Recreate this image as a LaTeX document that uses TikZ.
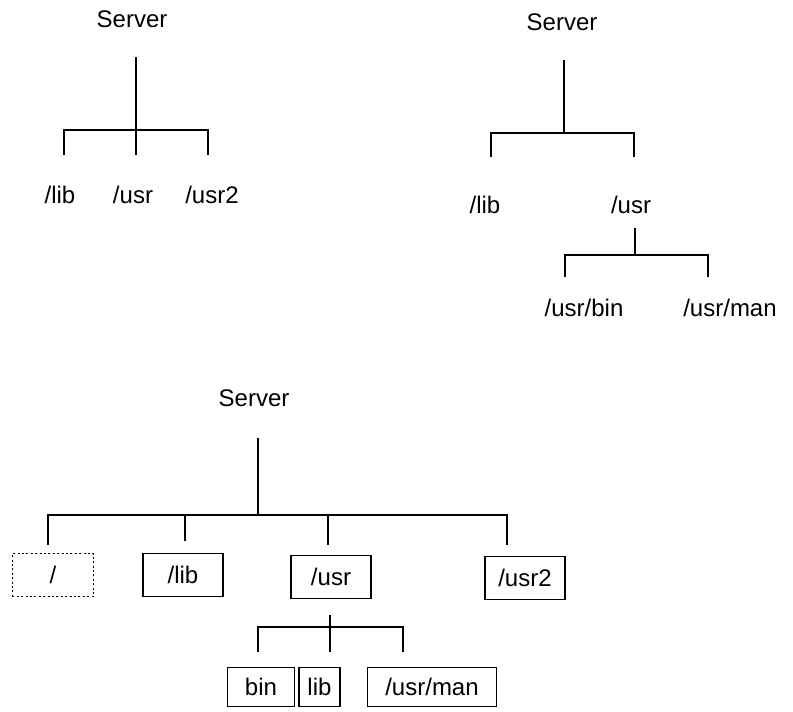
\documentclass[tikz,border=0pt]{standalone}
\usepackage{fontspec}
\setmainfont{Liberation Sans}
\begin{document}
\begin{tikzpicture}[x=0.75pt,y=-0.75pt,
  lbl/.style={inner sep=0pt, font=\fontsize{18}{21}\selectfont},
  dirbox/.style={draw, line width=1.1pt, inner sep=0pt, minimum height=32pt, font=\fontsize{18}{21}\selectfont},
  ghostbox/.style={dirbox, dash pattern=on 1.5pt off 1.8pt},
  ln/.style={line width=1.3pt}]
\useasboundingbox (0,0) rectangle (793,711);

% ---------- top-left tree ----------
\node[lbl] (s1) at (132,19) {Server};
\coordinate (s1t) at (136,57);
\coordinate (s1j) at (136,130);
\coordinate (s1l) at (64,130);
\coordinate (s1r) at (208,130);
\coordinate (s1la) at (64,155);
\coordinate (s1ma) at (136,155);
\coordinate (s1ra) at (208,155);
\node[lbl] (t1lib) at (60,195) {/lib};
\node[lbl] (t1usr) at (133,195) {/usr};
\node[lbl] (t1usr2) at (212,195) {/usr2};
\draw[ln] (s1t) -- (s1ma);
\draw[ln] (s1la) -- (s1l) -- (s1r) -- (s1ra);

% ---------- top-right tree ----------
\node[lbl] (s2) at (562,22) {Server};
\coordinate (s2t) at (564,60);
\coordinate (s2j) at (564,133);
\coordinate (s2l) at (491,133);
\coordinate (s2r) at (634,133);
\coordinate (s2la) at (491,157);
\coordinate (s2ra) at (634,157);
\node[lbl] (t2lib) at (485,205) {/lib};
\node[lbl] (t2usr) at (631,205) {/usr};
\draw[ln] (s2t) -- (s2j);
\draw[ln] (s2la) -- (s2l) -- (s2r) -- (s2ra);
\coordinate (u2t) at (635,228);
\coordinate (u2j) at (635,255);
\coordinate (u2l) at (565,255);
\coordinate (u2r) at (708,255);
\coordinate (u2la) at (565,277);
\coordinate (u2ra) at (708,277);
\node[lbl] (t2bin) at (584,308) {/usr/bin};
\node[lbl] (t2man) at (730,308) {/usr/man};
\draw[ln] (u2t) -- (u2j);
\draw[ln] (u2la) -- (u2l) -- (u2r) -- (u2ra);

% ---------- bottom tree ----------
\node[lbl] (s3) at (254,398) {Server};
\coordinate (s3t) at (258,438);
\coordinate (s3j) at (258,515);
\coordinate (s3l) at (48,515);
\coordinate (s3r) at (507,515);
\node[ghostbox, minimum width=61pt] (broot) at (53,575) {/};
\node[dirbox, minimum width=60pt] (blib) at (183,575) {/lib};
\node[dirbox, minimum width=60pt] (busr) at (331,577) {/usr};
\node[dirbox, minimum width=60pt] (busr2) at (525,578) {/usr2};
\coordinate (d1) at (48,545);
\coordinate (d2) at (185,541);
\coordinate (d2b) at (185,515);
\coordinate (d3) at (328,545);
\coordinate (d3b) at (328,515);
\coordinate (d4) at (507,545);
\draw[ln] (s3t) -- (s3j);
\draw[ln] (d1) -- (s3l) -- (s3r) -- (d4);
\draw[ln] (d2b) -- (d2);
\draw[ln] (d3b) -- (d3);

\coordinate (u3t) at (330,615);
\coordinate (u3m) at (330,652);
\coordinate (u3l) at (258,627);
\coordinate (u3r) at (403,627);
\coordinate (u3la) at (258,652);
\coordinate (u3ra) at (403,652);
\node[dirbox, minimum width=50pt, minimum height=29pt] (bbin) at (261,687) {bin};
\node[dirbox, minimum width=31pt, minimum height=29pt] (bblib) at (319.5,687) {lib};
\node[dirbox, minimum width=97pt, minimum height=29pt] (bman) at (432,687) {/usr/man};
\draw[ln] (u3t) -- (u3m);
\draw[ln] (u3la) -- (u3l) -- (u3r) -- (u3ra);
\end{tikzpicture}
\end{document}
